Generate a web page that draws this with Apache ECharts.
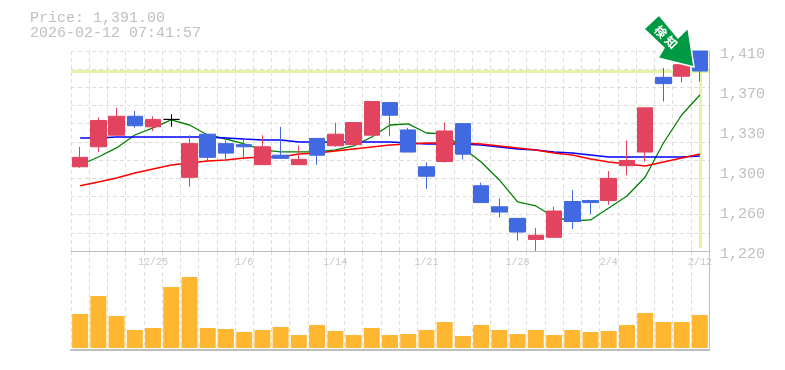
<!DOCTYPE html>
<html>
<head>
<meta charset="utf-8">
<style>
  html, body { margin: 0; padding: 0; background: #fff; }
  #chart { width: 785px; height: 370px; }
</style>
<script src="https://cdn.jsdelivr.net/npm/echarts@6/dist/echarts.min.js"></script>
</head>
<body>
<div id="chart"></div>
<script>
const dates = ['12/19','12/22','12/23','12/24','12/25','12/26','12/29','12/30','1/5','1/6','1/7','1/8','1/9','1/13','1/14','1/15','1/16','1/19','1/20','1/21','1/22','1/23','1/26','1/27','1/28','1/29','1/30','2/2','2/3','2/4','2/5','2/6','2/9','2/10','2/12'];
const labelledDates = ['12/25','1/6','1/14','1/21','1/28','2/4','2/12'];

// open, close, low, high
const candles = [
  [1300,1309,1299,1319],[1319,1344,1314,1347],[1330,1348,1330,1356],[1348,1339,1337,1353],[1338,1345,1334,1348],
  [1345,1345,1338,1350],[1290,1322,1281,1330],[1331,1309,1305,1331],[1322,1313,1307,1325],[1321,1319,1307,1326],
  [1302,1319,1302,1330],[1311,1308,1308,1338],[1302,1307,1302,1320],[1327,1311,1302,1327],[1320,1331,1319,1342],
  [1321,1342,1321,1342],[1330,1362,1330,1362],[1361,1349,1329,1361],[1335,1314,1314,1337],[1300,1291,1279,1304],
  [1305,1334,1304,1342],[1341,1312,1307,1341],[1282,1266,1266,1285],[1262,1257,1252,1270],[1251,1238,1230,1251],
  [1231,1235,1220,1242],[1233,1258,1233,1262],[1267,1248,1241,1278],[1268,1266,1255,1268],[1268,1289,1264,1296],
  [1301,1306,1292,1325],[1314,1356,1305,1356],[1385,1379,1362,1394],[1386,1397,1380,1399],[1410,1391,1381,1410]
];
const maShort = [1301.7,1309.3,1317.9,1330.2,1336.9,1344.5,1339.7,1330.2,1326.4,1321.7,1316,1314.1,1314.1,1314.1,1316,1319.8,1328.3,1339.7,1340.7,1332.1,1331.2,1317.9,1304.6,1287.5,1266.6,1262.8,1252.3,1248.5,1249.5,1260.9,1272.3,1290.3,1322.6,1349.2,1368.2];
const maMid = [1327.4,1327.4,1328.3,1328.3,1328.3,1328.3,1328.3,1328.3,1327.4,1326.4,1325.5,1325.5,1323.6,1323.6,1323.6,1323.6,1323.6,1323.6,1322.6,1321.7,1321.7,1321.7,1320.7,1318.8,1316.9,1316,1314.1,1313.1,1311.2,1309.3,1309.3,1309.3,1309.3,1309.3,1310.3];
const maLong = [1282,1285.6,1289.4,1294.1,1297.9,1301.7,1303.6,1305.5,1306.5,1308.4,1309.3,1309.3,1312.2,1313.1,1315,1316.9,1318.8,1320.7,1321.7,1322.6,1322.6,1322.6,1321.7,1319.8,1317.9,1316,1313.1,1311.2,1307.4,1304.6,1302.7,1300.8,1304.6,1308.4,1312.2];
const volumes = [34,52,32,18,20,61,71,20,19,16,18,21,13,23,17,13,20,13,14,18,26,12,23,18,14,18,13,18,16,17,23,35,26,26,33];

const lastPrice = 1391;
const priceTicks = [1220,1258,1296,1334,1372,1410];
const priceGrid = [1220,1237.27,1254.55,1271.82,1289.09,1306.36,1323.64,1340.91,1358.18,1375.45,1392.73,1410];

const grayText = '#c0c0c0';
const gridStyle = { color: '#dddddd', width: 1, type: [4, 3] };
const monoFont = '"Liberation Mono", monospace';

const chart = echarts.init(document.getElementById('chart'), null, { renderer: 'canvas' });

chart.setOption({
  animation: false,
  backgroundColor: '#fff',
  title: {
    text: 'Price: 1,391.00\n2026-02-12 07:41:57',
    left: 30,
    top: 11,
    padding: 0,
    textStyle: { color: grayText, fontFamily: monoFont, fontSize: 15, fontWeight: 'normal', lineHeight: 15 }
  },
  grid: [
    { left: 71, width: 638, top: 51, height: 200, show: false },
    { left: 71, width: 638, top: 251, height: 99, show: false }
  ],
  xAxis: [
    {
      type: 'category', gridIndex: 0, data: dates, boundaryGap: true,
      axisLine: { show: false }, axisTick: { show: false }, axisLabel: { show: false },
      splitLine: { show: true, interval: 0, lineStyle: gridStyle }
    },
    {
      type: 'category', gridIndex: 1, data: dates, boundaryGap: true, position: 'top',
      axisLine: { show: true, onZero: false, lineStyle: { color: '#bebebe', width: 1 } },
      axisTick: { show: false },
      axisLabel: {
        show: true, inside: true, interval: 0, margin: 6, color: '#c8c8c8', fontFamily: monoFont, fontSize: 10,
        formatter: v => labelledDates.includes(v) ? v : ''
      },
      splitLine: { show: true, interval: 0, lineStyle: gridStyle }
    },
    {
      type: 'category', gridIndex: 1, data: dates, boundaryGap: true, position: 'bottom',
      axisLine: { show: true, onZero: false, lineStyle: { color: '#bebebe', width: 2 } },
      axisTick: { show: false }, axisLabel: { show: false }, splitLine: { show: false }
    }
  ],
  yAxis: [
    {
      type: 'value', gridIndex: 0, min: 1220, max: 1410, position: 'right', scale: true,
      axisLine: { show: true, lineStyle: { color: '#bebebe', width: 1 } },
      axisTick: { show: false, customValues: priceGrid },
      axisLabel: {
        show: true, customValues: priceTicks, margin: 11, color: grayText, fontFamily: monoFont, fontSize: 15,
        verticalAlign: 'top', lineHeight: 6,
        formatter: v => (Math.round(v / 10) * 10).toLocaleString('en-US')
      },
      splitLine: { show: true, lineStyle: gridStyle }
    },
    {
      type: 'value', gridIndex: 1, min: -2, max: 97, position: 'right',
      axisLine: { show: true, lineStyle: { color: '#bebebe', width: 1 } },
      axisTick: { show: false }, axisLabel: { show: false }, splitLine: { show: false }
    }
  ],
  series: [
    {
      type: 'candlestick', xAxisIndex: 0, yAxisIndex: 0, data: candles, barWidth: 16, z: 3,
      itemStyle: {
        color: '#e2445f', color0: '#4169e1',
        borderColor: '#e2445f', borderColor0: '#4169e1', borderColorDoji: '#000000', borderWidth: 1
      }
    },
    {
      type: 'line', xAxisIndex: 0, yAxisIndex: 0, data: maShort, showSymbol: false, z: 2,
      lineStyle: { color: '#008000', width: 1.3 },
      markLine: {
        silent: true, symbol: 'none', z: 1, animation: false, label: { show: false },
        lineStyle: { color: '#e3f4a9', width: 3, type: 'solid' },
        data: [
          [{ xAxis: 0, yAxis: lastPrice, x: 71 }, { xAxis: 34, yAxis: lastPrice, x: 709 }],
          [{ xAxis: 34, yAxis: lastPrice }, { xAxis: 34, yAxis: 1223 }]
        ]
      }
    },
    { type: 'line', xAxisIndex: 0, yAxisIndex: 0, data: maMid, showSymbol: false, z: 2, lineStyle: { color: '#0000ff', width: 1.6 } },
    { type: 'line', xAxisIndex: 0, yAxisIndex: 0, data: maLong, showSymbol: false, z: 2, lineStyle: { color: '#ff0000', width: 1.6 } },
    { type: 'bar', xAxisIndex: 1, yAxisIndex: 1, data: volumes, barWidth: 16, itemStyle: { color: '#ffb732' } }
  ],
  graphic: [
    {
      type: 'polygon', z: 100,
      shape: { points: [[659, 15], [644, 29], [664, 48], [658, 58], [694, 67], [688, 28], [678, 38]] },
      style: { fill: '#009944', stroke: '#ffffff', lineWidth: 1.5 }
    },
    {
      type: 'text', z: 101, x: 666, y: 37, rotation: -Math.PI / 4, origin: [0, 0],
      style: {
        text: '検 知', fill: '#ffffff', font: 'bold 12px "Noto Sans CJK JP"',
        align: 'center', verticalAlign: 'middle'
      }
    }
  ]
});
</script>
</body>
</html>
